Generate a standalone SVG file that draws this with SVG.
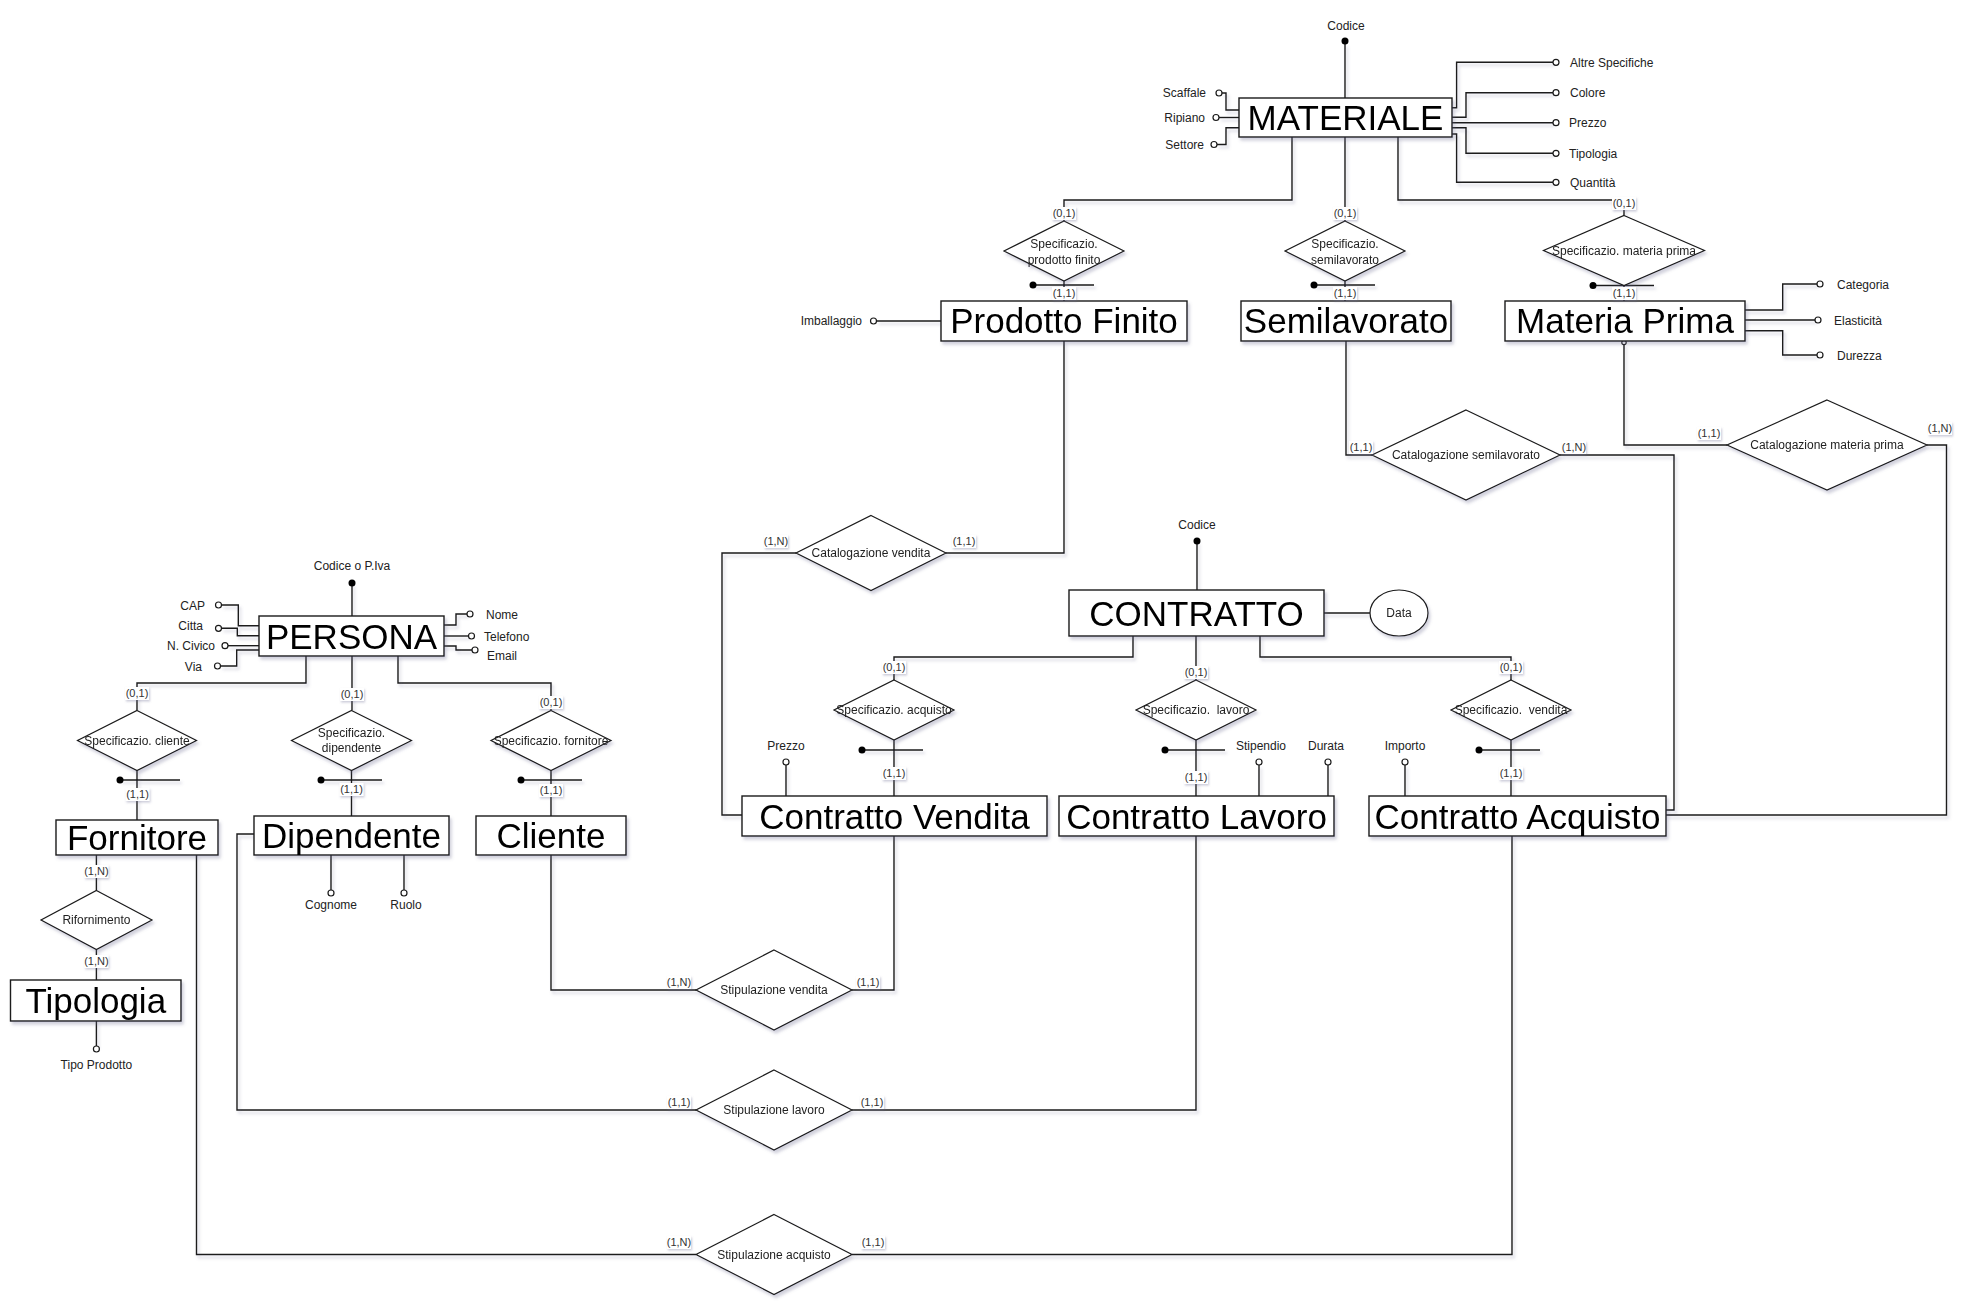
<svg xmlns="http://www.w3.org/2000/svg" width="1973" height="1311" viewBox="0 0 1973 1311">
<defs>
<filter id="sh" x="-10%" y="-10%" width="130%" height="140%">
<feDropShadow dx="2" dy="3" stdDeviation="1.5" flood-color="#6a6a90" flood-opacity="0.3"/>
</filter>
<filter id="lsh" x="-20%" y="-20%" width="150%" height="160%">
<feDropShadow dx="1" dy="1.5" stdDeviation="1" flood-color="#6a6a90" flood-opacity="0.35"/>
</filter>
<style>
.ent{fill:#fff;stroke:#1a1a1a;stroke-width:1.4}
.rel{fill:#fff;stroke:#1a1a1a;stroke-width:1.2}
.big{font-family:"Liberation Sans",Arial,sans-serif;font-size:35px;fill:#000;text-anchor:middle}
.t{font-family:"Liberation Sans",Arial,sans-serif;font-size:12px;fill:#222}
.m{text-anchor:middle}
.e{text-anchor:end}
.c{font-family:"Liberation Sans",Arial,sans-serif;font-size:11px;fill:#333;text-anchor:middle}
.cb{fill:#fff}
.ln{fill:none;stroke:#1a1a1a;stroke-width:1.4}
.at{fill:#fff;stroke:#1a1a1a;stroke-width:1.2}
.key{fill:#000}
</style>
</defs>
<rect width="1973" height="1311" fill="#fff"/>

<g id="connectors" filter="url(#sh)">
<path class="ln" d="M1345,44 V98"/>
<path class="ln" d="M1221.5,93 H1226 V110 H1239"/>
<path class="ln" d="M1219,117.5 H1239"/>
<path class="ln" d="M1217,144.5 H1226 V127.7 H1239"/>
<path class="ln" d="M1452,107.7 H1456.6 V62.3 H1553"/>
<path class="ln" d="M1452,117.3 H1466 V92.7 H1553"/>
<path class="ln" d="M1452,122.7 H1553"/>
<path class="ln" d="M1452,127.7 H1466 V153.3 H1553"/>
<path class="ln" d="M1452,134 H1456.6 V182.3 H1553"/>
<path class="ln" d="M1292,137 V200 H1064 V221"/>
<path class="ln" d="M1345,137 V221"/>
<path class="ln" d="M1398,137 V200 H1624 V215.5"/>
<path class="ln" d="M1064,281 V301"/>
<path class="ln" d="M1345,281 V301"/>
<path class="ln" d="M1624,285.5 V301"/>
<path class="ln" d="M1033,285 H1094"/>
<path class="ln" d="M1314,285 H1375"/>
<path class="ln" d="M1593,285.5 H1654"/>
<path class="ln" d="M1745,310 H1782.7 V284 H1817"/>
<path class="ln" d="M1745,320 H1815"/>
<path class="ln" d="M1745,330.7 H1782.7 V355 H1817"/>
<path class="ln" d="M876.5,321 H941"/>
<path class="ln" d="M1064,341 V553 H946"/>
<path class="ln" d="M796,553 H722 V815 H742"/>
<path class="ln" d="M1346,341 V455 H1372"/>
<path class="ln" d="M1560,455 H1674 V810 H1666"/>
<path class="ln" d="M1624,343.5 V445 H1727"/>
<path class="ln" d="M1927,445 H1946.5 V815 H1666"/>
<path class="ln" d="M1197,541 V590"/>
<path class="ln" d="M1324,613 H1370"/>
<path class="ln" d="M1133,636 V657 H894 V680"/>
<path class="ln" d="M1196,636 V680"/>
<path class="ln" d="M1260,636 V657 H1511 V680"/>
<path class="ln" d="M894,740 V796"/>
<path class="ln" d="M1196,740 V796"/>
<path class="ln" d="M1511,740 V796"/>
<path class="ln" d="M862,750 H923"/>
<path class="ln" d="M1165,750 H1225"/>
<path class="ln" d="M1479,750 H1540"/>
<path class="ln" d="M786,765 V796"/>
<path class="ln" d="M1259,765 V796"/>
<path class="ln" d="M1328,765 V796"/>
<path class="ln" d="M1405,765 V796"/>
<path class="ln" d="M352,583 V616"/>
<path class="ln" d="M221.5,605 H238.3 V625.7 H259"/>
<path class="ln" d="M221.5,628.3 H237.3 V635.7 H259"/>
<path class="ln" d="M228,645.7 H259"/>
<path class="ln" d="M220.5,666 H236.7 V650 H259"/>
<path class="ln" d="M444,625 H456 V614 H467"/>
<path class="ln" d="M444,636 H468.5"/>
<path class="ln" d="M444,646 H456 V650 H472"/>
<path class="ln" d="M306,656 V683 H137 V710.5"/>
<path class="ln" d="M352,656 V710.5"/>
<path class="ln" d="M398,656 V683 H551 V710.5"/>
<path class="ln" d="M137,770.5 V820"/>
<path class="ln" d="M351.5,770.5 V816"/>
<path class="ln" d="M551,770.5 V816"/>
<path class="ln" d="M120,780 H180"/>
<path class="ln" d="M321,780 H382"/>
<path class="ln" d="M521,780 H582"/>
<path class="ln" d="M96.4,855 V890.5"/>
<path class="ln" d="M96.4,949.5 V980"/>
<path class="ln" d="M96.4,1021 V1046"/>
<path class="ln" d="M331,855 V890"/>
<path class="ln" d="M404,855 V890"/>
<path class="ln" d="M551,855 V990 H696"/>
<path class="ln" d="M852,990 H894 V836"/>
<path class="ln" d="M254,834 H237 V1110 H696"/>
<path class="ln" d="M852,1110 H1196 V836"/>
<path class="ln" d="M196.5,855 V1254.5 H696"/>
<path class="ln" d="M852,1254.5 H1512 V836"/>
</g>

<g id="key-marks">
<circle class="key" cx="1345" cy="41" r="3.5"/>
<circle class="key" cx="1033" cy="285" r="3.5"/>
<circle class="key" cx="1314" cy="285" r="3.5"/>
<circle class="key" cx="1593" cy="285.5" r="3.5"/>
<circle class="key" cx="1197" cy="541" r="3.5"/>
<circle class="key" cx="862" cy="750" r="3.5"/>
<circle class="key" cx="1165" cy="750" r="3.5"/>
<circle class="key" cx="1479" cy="750" r="3.5"/>
<circle class="key" cx="352" cy="583" r="3.5"/>
<circle class="key" cx="120" cy="780" r="3.5"/>
<circle class="key" cx="321" cy="780" r="3.5"/>
<circle class="key" cx="521" cy="780" r="3.5"/>
<circle class="at" cx="1624" cy="342.5" r="2.2"/>
</g>

<g id="materiale" filter="url(#sh)"><rect class="ent" x="1239" y="98" width="213" height="39"/><text class="big" x="1345.5" y="130">MATERIALE</text></g>
<g id="prodotto-finito" filter="url(#sh)"><rect class="ent" x="941" y="301" width="246" height="40"/><text class="big" x="1064" y="333">Prodotto Finito</text></g>
<g id="semilavorato" filter="url(#sh)"><rect class="ent" x="1241" y="301" width="210" height="40"/><text class="big" x="1346" y="333">Semilavorato</text></g>
<g id="materia-prima" filter="url(#sh)"><rect class="ent" x="1505" y="301" width="240" height="40"/><text class="big" x="1625" y="333">Materia Prima</text></g>
<g id="contratto" filter="url(#sh)"><rect class="ent" x="1069" y="590" width="255" height="46"/><text class="big" x="1196.5" y="625.5">CONTRATTO</text></g>
<g id="contratto-vendita" filter="url(#sh)"><rect class="ent" x="742" y="796" width="305" height="40"/><text class="big" x="894.5" y="828.5">Contratto Vendita</text></g>
<g id="contratto-lavoro" filter="url(#sh)"><rect class="ent" x="1059" y="796" width="275" height="40"/><text class="big" x="1196.5" y="828.5">Contratto Lavoro</text></g>
<g id="contratto-acquisto" filter="url(#sh)"><rect class="ent" x="1369" y="796" width="297" height="40"/><text class="big" x="1517.5" y="828.5">Contratto Acquisto</text></g>
<g id="persona" filter="url(#sh)"><rect class="ent" x="259" y="616" width="185" height="40"/><text class="big" x="351.5" y="648.5">PERSONA</text></g>
<g id="fornitore" filter="url(#sh)"><rect class="ent" x="56" y="820" width="162" height="35"/><text class="big" x="137" y="850">Fornitore</text></g>
<g id="dipendente" filter="url(#sh)"><rect class="ent" x="254" y="816" width="195" height="39"/><text class="big" x="351.5" y="848">Dipendente</text></g>
<g id="cliente" filter="url(#sh)"><rect class="ent" x="476" y="816" width="150" height="39"/><text class="big" x="551" y="848">Cliente</text></g>
<g id="tipologia" filter="url(#sh)"><rect class="ent" x="10.5" y="980" width="170.5" height="41"/><text class="big" x="95.75" y="1013">Tipologia</text></g>

<g id="spec-prodotto-finito" filter="url(#sh)"><polygon class="rel" points="1064,221 1124,251 1064,281 1004,251"/><text class="t m" x="1064" y="247.5">Specificazio.</text><text class="t m" x="1064" y="263.5">prodotto finito</text></g>
<g id="spec-semilavorato" filter="url(#sh)"><polygon class="rel" points="1345,221 1405,251 1345,281 1285,251"/><text class="t m" x="1345" y="247.5">Specificazio.</text><text class="t m" x="1345" y="263.5">semilavorato</text></g>
<g id="spec-materia-prima" filter="url(#sh)"><polygon class="rel" points="1624,215.5 1704.5,250.5 1624,285.5 1543.5,250.5"/><text class="t m" x="1624" y="254.5">Specificazio. materia prima</text></g>
<g id="catalogazione-vendita" filter="url(#sh)"><polygon class="rel" points="871,515.5 946,553 871,590.5 796,553"/><text class="t m" x="871" y="557">Catalogazione vendita</text></g>
<g id="catalogazione-semilavorato" filter="url(#sh)"><polygon class="rel" points="1466,410 1560,455 1466,500 1372,455"/><text class="t m" x="1466" y="459">Catalogazione semilavorato</text></g>
<g id="catalogazione-materia-prima" filter="url(#sh)"><polygon class="rel" points="1827,400 1927,445 1827,490 1727,445"/><text class="t m" x="1827" y="449">Catalogazione materia prima</text></g>
<g id="spec-acquisto" filter="url(#sh)"><polygon class="rel" points="894,680 954,710 894,740 834,710"/><text class="t m" x="894" y="714">Specificazio. acquisto</text></g>
<g id="spec-lavoro" filter="url(#sh)"><polygon class="rel" points="1196,680 1256,710 1196,740 1136,710"/><text class="t m" x="1196" y="714" xml:space="preserve">Specificazio.  lavoro</text></g>
<g id="spec-vendita" filter="url(#sh)"><polygon class="rel" points="1511,680 1571,710 1511,740 1451,710"/><text class="t m" x="1511" y="714" xml:space="preserve">Specificazio.  vendita</text></g>
<g id="spec-cliente" filter="url(#sh)"><polygon class="rel" points="137,710.5 196.5,740.5 137,770.5 77.5,740.5"/><text class="t m" x="137" y="744.5">Specificazio. cliente</text></g>
<g id="spec-dipendente" filter="url(#sh)"><polygon class="rel" points="351.5,710.5 411.5,740.5 351.5,770.5 291.5,740.5"/><text class="t m" x="351.5" y="737">Specificazio.</text><text class="t m" x="351.5" y="752">dipendente</text></g>
<g id="spec-fornitore" filter="url(#sh)"><polygon class="rel" points="551,710.5 611,740.5 551,770.5 491,740.5"/><text class="t m" x="551" y="744.5">Specificazio. fornitore</text></g>
<g id="rifornimento" filter="url(#sh)"><polygon class="rel" points="96.4,890.5 152,920 96.4,949.5 41,920"/><text class="t m" x="96.4" y="924">Rifornimento</text></g>
<g id="stipulazione-vendita" filter="url(#sh)"><polygon class="rel" points="774,950 852,990 774,1030 696,990"/><text class="t m" x="774" y="994">Stipulazione vendita</text></g>
<g id="stipulazione-lavoro" filter="url(#sh)"><polygon class="rel" points="774,1070 852,1110 774,1150 696,1110"/><text class="t m" x="774" y="1114">Stipulazione lavoro</text></g>
<g id="stipulazione-acquisto" filter="url(#sh)"><polygon class="rel" points="774,1214.5 852,1254.5 774,1294.5 696,1254.5"/><text class="t m" x="774" y="1258.5">Stipulazione acquisto</text></g>

<g id="attr-codice-materiale"><text class="t m" x="1346" y="29.5">Codice</text></g>
<g id="attr-scaffale"><circle class="at" cx="1219" cy="93" r="3"/><text class="t e" x="1206" y="97">Scaffale</text></g>
<g id="attr-ripiano"><circle class="at" cx="1216" cy="117.5" r="3"/><text class="t e" x="1205" y="122">Ripiano</text></g>
<g id="attr-settore"><circle class="at" cx="1214" cy="144.5" r="3"/><text class="t e" x="1204" y="148.5">Settore</text></g>
<g id="attr-altre-specifiche"><circle class="at" cx="1556" cy="62.3" r="3"/><text class="t" x="1570" y="66.5">Altre Specifiche</text></g>
<g id="attr-colore"><circle class="at" cx="1556" cy="92.7" r="3"/><text class="t" x="1570" y="97">Colore</text></g>
<g id="attr-prezzo-mat"><circle class="at" cx="1556" cy="122.7" r="3"/><text class="t" x="1569" y="127">Prezzo</text></g>
<g id="attr-tipologia"><circle class="at" cx="1556" cy="153.3" r="3"/><text class="t" x="1569" y="157.5">Tipologia</text></g>
<g id="attr-quantita"><circle class="at" cx="1556" cy="182.3" r="3"/><text class="t" x="1570" y="186.5">Quantità</text></g>
<g id="attr-categoria"><circle class="at" cx="1820" cy="284" r="3"/><text class="t" x="1837" y="288.5">Categoria</text></g>
<g id="attr-elasticita"><circle class="at" cx="1818" cy="320" r="3"/><text class="t" x="1834" y="324.5">Elasticità</text></g>
<g id="attr-durezza"><circle class="at" cx="1820" cy="355" r="3"/><text class="t" x="1837" y="359.5">Durezza</text></g>
<g id="attr-imballaggio"><circle class="at" cx="873.5" cy="321" r="3"/><text class="t e" x="862" y="324.5">Imballaggio</text></g>
<g id="attr-codice-contratto"><text class="t m" x="1197" y="528.5">Codice</text></g>
<g id="attr-data" filter="url(#sh)"><ellipse class="at" cx="1399" cy="613" rx="29" ry="23"/><text class="t m" x="1399" y="617">Data</text></g>
<g id="attr-prezzo"><circle class="at" cx="786" cy="762" r="3"/><text class="t m" x="786" y="749.5">Prezzo</text></g>
<g id="attr-stipendio"><circle class="at" cx="1259" cy="762" r="3"/><text class="t m" x="1261" y="749.5">Stipendio</text></g>
<g id="attr-durata"><circle class="at" cx="1328" cy="762" r="3"/><text class="t m" x="1326" y="749.5">Durata</text></g>
<g id="attr-importo"><circle class="at" cx="1405" cy="762" r="3"/><text class="t m" x="1405" y="749.5">Importo</text></g>
<g id="attr-codice-piva"><text class="t m" x="352" y="569.5">Codice o P.Iva</text></g>
<g id="attr-cap"><circle class="at" cx="218.5" cy="605" r="3"/><text class="t e" x="205" y="609.5">CAP</text></g>
<g id="attr-citta"><circle class="at" cx="218.5" cy="628.3" r="3"/><text class="t e" x="203" y="629.5">Citta</text></g>
<g id="attr-ncivico"><circle class="at" cx="225" cy="645.7" r="3"/><text class="t e" x="215" y="649.5">N. Civico</text></g>
<g id="attr-via"><circle class="at" cx="217.5" cy="666" r="3"/><text class="t e" x="202" y="670.5">Via</text></g>
<g id="attr-nome"><circle class="at" cx="470" cy="614" r="3"/><text class="t" x="486" y="618.5">Nome</text></g>
<g id="attr-telefono"><circle class="at" cx="471.5" cy="636" r="3"/><text class="t" x="484" y="640.5">Telefono</text></g>
<g id="attr-email"><circle class="at" cx="475" cy="650" r="3"/><text class="t" x="487" y="659.5">Email</text></g>
<g id="attr-cognome"><circle class="at" cx="331" cy="893" r="3"/><text class="t m" x="331" y="909">Cognome</text></g>
<g id="attr-ruolo"><circle class="at" cx="404" cy="893" r="3"/><text class="t m" x="406" y="909">Ruolo</text></g>
<g id="attr-tipo-prodotto"><circle class="at" cx="96.4" cy="1049" r="3"/><text class="t m" x="96.4" y="1069">Tipo Prodotto</text></g>

<g id="cardinalities">
<g filter="url(#lsh)">
<rect class="cb" x="1052" y="207" width="24" height="13"/>
<rect class="cb" x="1333" y="207" width="24" height="13"/>
<rect class="cb" x="1612" y="197" width="24" height="13"/>
<rect class="cb" x="1052" y="287" width="24" height="13"/>
<rect class="cb" x="1333" y="287" width="24" height="13"/>
<rect class="cb" x="1612" y="287" width="24" height="13"/>
<rect class="cb" x="952" y="535" width="24" height="13"/>
<rect class="cb" x="764" y="535" width="24" height="13"/>
<rect class="cb" x="1349" y="441" width="24" height="13"/>
<rect class="cb" x="1562" y="441" width="24" height="13"/>
<rect class="cb" x="1697" y="427" width="24" height="13"/>
<rect class="cb" x="1928" y="422" width="24" height="13"/>
<rect class="cb" x="882" y="661" width="24" height="13"/>
<rect class="cb" x="1184" y="666" width="24" height="13"/>
<rect class="cb" x="1499" y="661" width="24" height="13"/>
<rect class="cb" x="882" y="767" width="24" height="13"/>
<rect class="cb" x="1184" y="771" width="24" height="13"/>
<rect class="cb" x="1499" y="767" width="24" height="13"/>
<rect class="cb" x="125" y="687" width="24" height="13"/>
<rect class="cb" x="340" y="688" width="24" height="13"/>
<rect class="cb" x="539" y="696" width="24" height="13"/>
<rect class="cb" x="125.5" y="788" width="24" height="13"/>
<rect class="cb" x="339.5" y="783" width="24" height="13"/>
<rect class="cb" x="539" y="784" width="24" height="13"/>
<rect class="cb" x="84.4" y="865" width="24" height="13"/>
<rect class="cb" x="84.4" y="955" width="24" height="13"/>
<rect class="cb" x="667" y="976" width="24" height="13"/>
<rect class="cb" x="856" y="976" width="24" height="13"/>
<rect class="cb" x="667" y="1096" width="24" height="13"/>
<rect class="cb" x="860" y="1096" width="24" height="13"/>
<rect class="cb" x="667" y="1236" width="24" height="13"/>
<rect class="cb" x="861" y="1236" width="24" height="13"/>
</g>
<text class="c" x="1064" y="217">(0,1)</text>
<text class="c" x="1345" y="217">(0,1)</text>
<text class="c" x="1624" y="207">(0,1)</text>
<text class="c" x="1064" y="297">(1,1)</text>
<text class="c" x="1345" y="297">(1,1)</text>
<text class="c" x="1624" y="297">(1,1)</text>
<text class="c" x="964" y="545">(1,1)</text>
<text class="c" x="776" y="545">(1,N)</text>
<text class="c" x="1361" y="451">(1,1)</text>
<text class="c" x="1574" y="451">(1,N)</text>
<text class="c" x="1709" y="437">(1,1)</text>
<text class="c" x="1940" y="432">(1,N)</text>
<text class="c" x="894" y="671">(0,1)</text>
<text class="c" x="1196" y="676">(0,1)</text>
<text class="c" x="1511" y="671">(0,1)</text>
<text class="c" x="894" y="777">(1,1)</text>
<text class="c" x="1196" y="781">(1,1)</text>
<text class="c" x="1511" y="777">(1,1)</text>
<text class="c" x="137" y="697">(0,1)</text>
<text class="c" x="352" y="698">(0,1)</text>
<text class="c" x="551" y="706">(0,1)</text>
<text class="c" x="137.5" y="798">(1,1)</text>
<text class="c" x="351.5" y="793">(1,1)</text>
<text class="c" x="551" y="794">(1,1)</text>
<text class="c" x="96.4" y="875">(1,N)</text>
<text class="c" x="96.4" y="965">(1,N)</text>
<text class="c" x="679" y="986">(1,N)</text>
<text class="c" x="868" y="986">(1,1)</text>
<text class="c" x="679" y="1106">(1,1)</text>
<text class="c" x="872" y="1106">(1,1)</text>
<text class="c" x="679" y="1246">(1,N)</text>
<text class="c" x="873" y="1246">(1,1)</text>
</g>
</svg>
